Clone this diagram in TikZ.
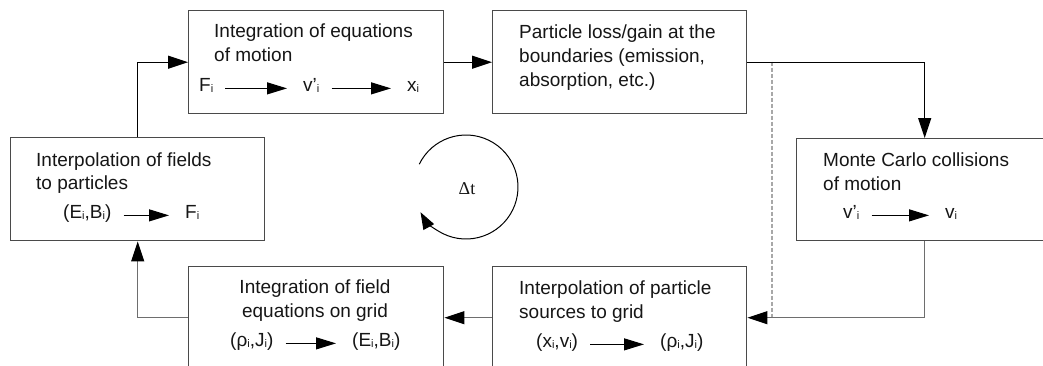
\documentclass[tikz,border=0pt]{standalone}
\usepackage{fontspec}
\setmainfont{Liberation Sans}
\newfontfamily\dtfont{Liberation Serif}
\usetikzlibrary{arrows.meta}
\definecolor{boxgray}{HTML}{4A4A4A}
\definecolor{linegray}{HTML}{6E6E6E}
\definecolor{txtcol}{HTML}{161616}
\definecolor{dashgray}{HTML}{A8A8A8}
\newcommand{\sbi}{\raisebox{-1.5pt}{\fontsize{11}{11}\selectfont i}}
\tikzset{
  box/.style={draw=boxgray, line width=1.4pt, anchor=north west, inner sep=0pt},
  txt/.style={font=\fontsize{19}{23}\selectfont, text=txtcol, inner sep=0pt, anchor=base west},
  ctxt/.style={txt, anchor=base},
  conn/.style={draw=#1, line width=1.2pt, -{Triangle[length=20pt,width=13pt,color=black]}},
  conn/.default={black},
  ia/.style={draw=black, line width=1.1pt, -{Triangle[length=20pt,width=12pt]}, shorten <=12pt, shorten >=16pt},
}
\begin{document}
\begin{tikzpicture}[x=1pt,y=-1pt]
\useasboundingbox (0,0) rectangle (1043,365);
\clip (0,0) rectangle (1043,365);
\fill[white] (0,0) rectangle (1043,365);

% boxes
\node[box, minimum width=255pt, minimum height=103pt] (b1) at (188,10) {};
\node[box, minimum width=254pt, minimum height=103pt] (b2) at (492,10) {};
\node[box, minimum width=256pt, minimum height=102pt] (b3) at (796,138) {};
\node[box, minimum width=254pt, minimum height=102pt] (b4) at (492,266) {};
\node[box, minimum width=255pt, minimum height=102pt] (b5) at (188,266) {};
\node[box, minimum width=254pt, minimum height=103pt] (b6) at (10,137) {};

% box 1
\node[txt] (t1a) at (214,37) {Integration of equations};
\node[txt] (t1b) at (214,61) {of motion};
\node[txt] (t1c) at (199,91) {F\sbi};
\node[txt] (t1d) at (303,91) {v'\sbi};
\node[txt] (t1e) at (407,91) {x\sbi};
\draw[ia] (t1c.mid east) -- (t1d.mid west);
\draw[ia] (t1d.mid east) -- (t1e.mid west);

% box 2
\node[txt] (t2a) at (519,38) {Particle loss/gain at the};
\node[txt] (t2b) at (519,62) {boundaries (emission,};
\node[txt] (t2c) at (519,86) {absorption, etc.)};

% box 3
\node[txt] (t3a) at (823,166) {Monte Carlo collisions};
\node[txt] (t3b) at (823,190) {of motion};
\node[txt] (t3c) at (843,218) {v'\sbi};
\node[txt] (t3d) at (945,218) {v\sbi};
\draw[ia] (t3c.mid east) -- (t3d.mid west);

% box 4
\node[txt] (t4a) at (519,294) {Interpolation of particle};
\node[txt] (t4b) at (519,318) {sources to grid};
\node[txt] (t4c) at (536,347) {(x\sbi,v\sbi)};
\node[txt] (t4d) at (660,347) {(ρ\sbi,J\sbi)};
\draw[ia] (t4c.mid east) -- (t4d.mid west);

% box 5
\node[ctxt] (t5a) at (315,293) {Integration of field};
\node[ctxt] (t5b) at (315,317) {equations on grid};
\node[txt] (t5c) at (230,346) {(ρ\sbi,J\sbi)};
\node[txt] (t5d) at (352,346) {(E\sbi,B\sbi)};
\draw[ia] (t5c.mid east) -- (t5d.mid west);

% box 6
\node[txt] (t6a) at (36,166) {Interpolation of fields};
\node[txt] (t6b) at (36,189) {to particles};
\node[txt] (t6c) at (63,218) {(E\sbi,B\sbi)};
\node[txt] (t6d) at (185,218) {F\sbi};
\draw[ia] (t6c.mid east) -- (t6d.mid west);

% dashed separator
\coordinate (d1) at (772,61.5);
\coordinate (d2) at (772,317);
\draw[dashgray, line width=1.2pt, dash pattern=on 4pt off 2pt] (d1) -- (d2);

% connectors
\draw[conn] (b6.north) |- (b1.west);
\draw[conn] (b1.east) -- (b2.west);
\draw[conn] (b2.east) -| (b3.north);
\draw[conn=linegray] (b3.south) |- (b4.east);
\draw[conn=linegray] (b4.west) -- (b5.east);
\draw[conn=linegray] (b5.west) -| (b6.south);

% time-step cycle
\node[font=\dtfont\fontsize{18}{18}\selectfont, text=txtcol, inner sep=0pt] (dt) at (467,189) {Δt};
\draw[black, line width=1pt, -{Triangle[length=17pt,width=12pt]}]
  ([shift={(-154:52)}]466,187) arc[start angle=-154, end angle=151, radius=52];
\end{tikzpicture}
\end{document}
